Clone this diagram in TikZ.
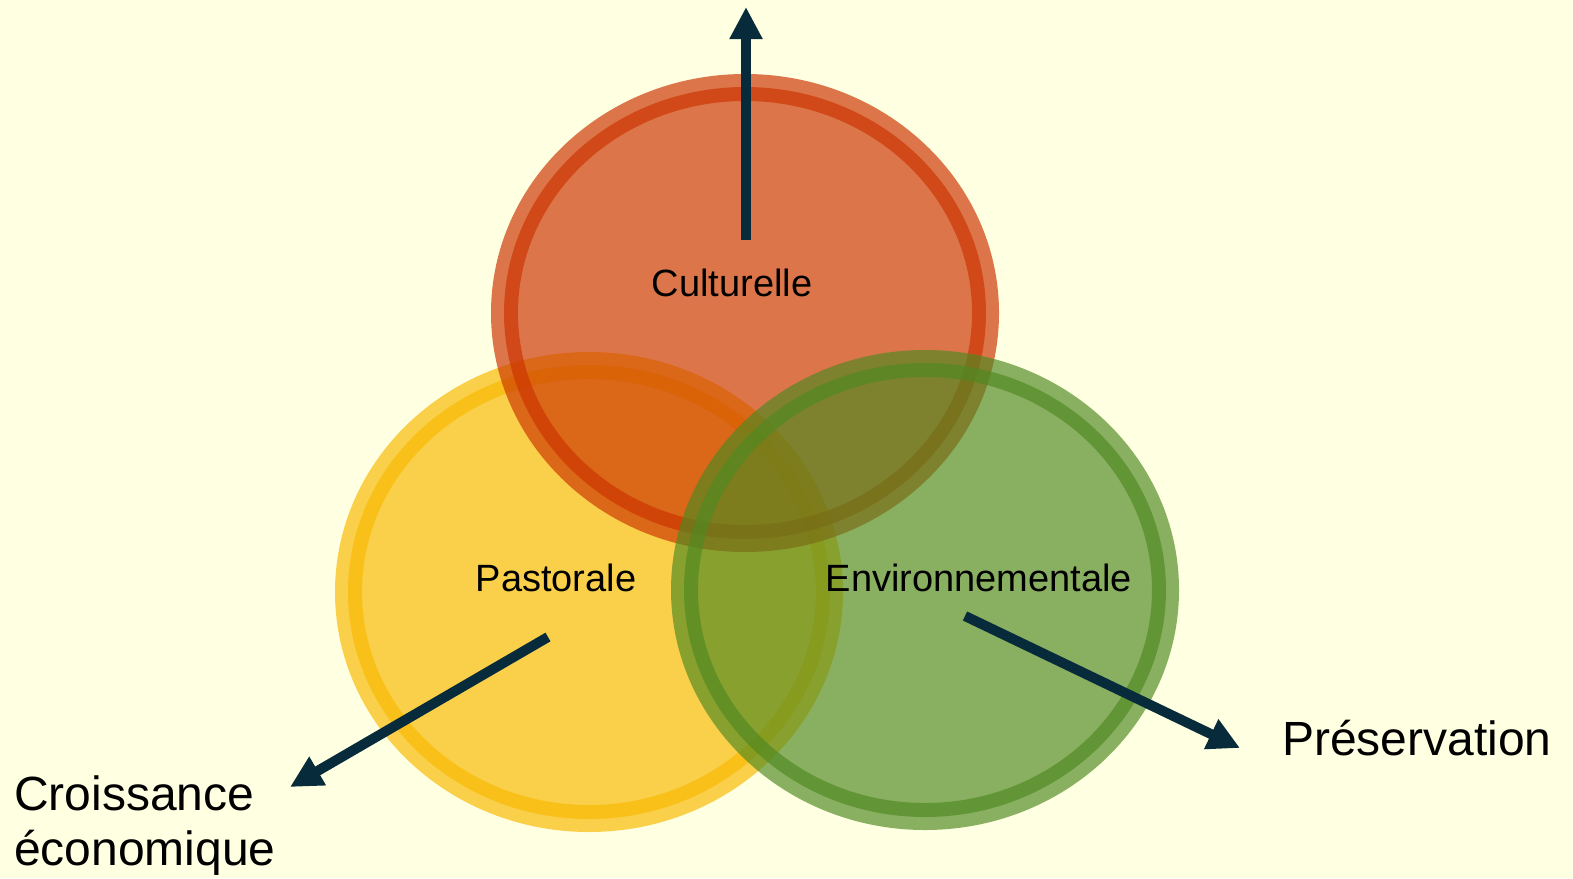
\documentclass[tikz,border=0pt]{standalone}
\usepackage{fontspec}
\setmainfont{Liberation Sans}
\usetikzlibrary{arrows.meta}
\definecolor{paper}{HTML}{FFFFE1}
\definecolor{culture}{HTML}{CC3400}
\definecolor{pasture}{HTML}{F8B900}
\definecolor{nature}{HTML}{508921}
\definecolor{pointerblue}{HTML}{082B3C}

\begin{document}
\begin{tikzpicture}[x=1pt,y=-1pt,
    disc/.style={fill=#1,fill opacity=0.67},
    ring/.style={draw=#1,draw opacity=0.67,line width=14pt},
    pointer/.style={draw=pointerblue,line width=10pt,-{Triangle[width=31pt,length=32pt]}},
    lbl/.style={inner sep=0pt,font=\fontsize{38}{44}\selectfont},
    biglbl/.style={inner sep=0pt,align=left,font=\fontsize{48}{55}\selectfont}]
  \useasboundingbox (0,0) rectangle (1573,878);
  \fill[paper] (0,0) rectangle (1573,878);
  % the three domains
  \fill[disc=pasture]  (589,592) ellipse [x radius=254,y radius=240];
  \draw[ring=pasture]  (589,592) ellipse [x radius=234,y radius=220];
  \fill[disc=culture]  (745,313) ellipse [x radius=254,y radius=239];
  \draw[ring=culture]  (745,313) ellipse [x radius=234,y radius=219];
  \fill[disc=nature]   (925,590) ellipse [x radius=254,y radius=240];
  \draw[ring=nature]   (925,590) ellipse [x radius=234,y radius=220];
  \node[lbl] (cult) at (732,283)  {Culturelle};
  \node[lbl] (past) at (556,578)  {Pastorale};
  \node[lbl] (env)  at (979,578)  {Environnementale};
  \node[biglbl,anchor=west] (pres) at (1282,738) {Préservation};
  \node[biglbl,anchor=base west] (croiss) at (14,865) {Croissance\\économique};
  % arrows
  \coordinate (cultTail) at (746,240);
  \coordinate (cultTip)  at (746,7);
  \coordinate (pastTail) at (548,637);
  \coordinate (pastTip)  at (290,787);
  \coordinate (envTail)  at (965,616);
  \coordinate (envTip)   at (1240,748);
  \draw[pointer] (cultTail) -- (cultTip);
  \draw[pointer] (pastTail) -- (pastTip);
  \draw[pointer] (envTail) -- (envTip);
\end{tikzpicture}
\end{document}
